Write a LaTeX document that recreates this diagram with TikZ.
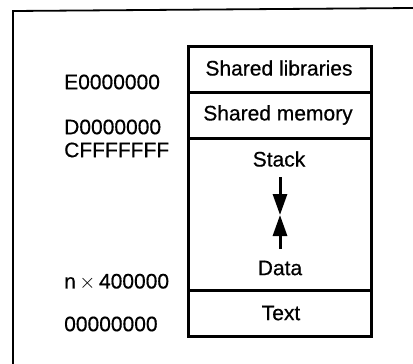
\documentclass[tikz,border=0pt]{standalone}
\usepackage{fontspec}
\setmainfont[FakeBold=0.5]{Liberation Sans}
\usetikzlibrary{arrows.meta}
\begin{document}
\begin{tikzpicture}[x=1pt,y=-1pt,
  sect/.style={draw=black,line width=2.6pt,minimum width=183pt,inner sep=0pt,anchor=north west},
  lbl/.style={font=\fontsize{21}{23}\selectfont,inner sep=0pt},
  addr/.style={font=\fontsize{21}{23}\selectfont,inner sep=0pt,anchor=west},
  growarrow/.style={line width=3pt,-{Triangle[width=14pt,length=21pt]}}]
\useasboundingbox (0,0) rectangle (413,364);
% frame
\draw[line width=1.8pt] (13,364) -- (13,11) -- (413,8);
% memory sections
\node[sect,minimum height=46pt] (sl) at (187,45) {};
\node[sect,minimum height=46pt] (sm) at (187,91) {};
\node[sect,minimum height=152pt] (sd) at (187,137) {};
\node[sect,minimum height=46pt] (tx) at (187,289) {};
% section labels
\node[lbl] (tsl) at (279,68) {Shared libraries};
\node[lbl] (tsm) at (278,115) {Shared memory};
\node[lbl] (tst) at (279,159) {Stack};
\node[lbl] (tda) at (280,268) {Data};
\node[lbl] (ttx) at (281,313) {Text};
% arrows
\coordinate (s0) at (280,177);
\coordinate (s1) at (280,215);
\coordinate (d0) at (280,249);
\coordinate (d1) at (280,215);
\draw[growarrow] (s0) -- (s1);
\draw[growarrow] (d0) -- (d1);
% addresses
\node[addr] (a1) at (64,82) {E0000000};
\node[addr] (a2) at (64,127) {D0000000};
\node[addr] (a3) at (64,150) {CFFFFFFF};
\node[addr] (a4) at (64,282) {n\,$\times$\,400000};
\node[addr] (a5) at (64,324) {00000000};
\end{tikzpicture}
\end{document}
